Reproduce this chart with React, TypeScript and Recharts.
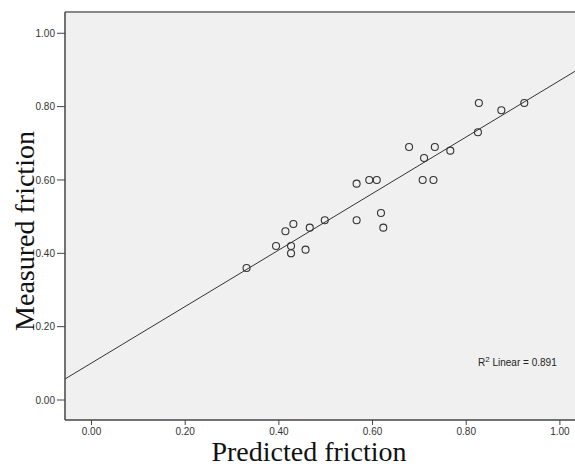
import {
  ScatterChart,
  Scatter,
  XAxis,
  YAxis,
  CartesianGrid,
  ReferenceLine,
  Label,
} from 'recharts';

// Values
const predicted = [
  0.827, 0.875, 0.924, 0.825, 0.678, 0.733, 0.71, 0.766, 0.566, 0.593, 0.609, 0.707, 0.73,
  0.566, 0.618, 0.623, 0.498, 0.466, 0.431, 0.414, 0.331, 0.394, 0.426, 0.426, 0.457,
];
const measured = [
  0.81, 0.79, 0.81, 0.73, 0.69, 0.69, 0.66, 0.68, 0.59, 0.6, 0.6, 0.6, 0.6,
  0.49, 0.51, 0.47, 0.49, 0.47, 0.48, 0.46, 0.36, 0.42, 0.42, 0.4, 0.41,
];
const xTicks = [0, 0.2, 0.4, 0.6, 0.8, 1.0];
const yTicks = [0, 0.2, 0.4, 0.6, 0.8, 1.0];
const rSquared = '0.891';

const X_DOMAIN: [number, number] = [-0.0566, 1.06];
const Y_DOMAIN: [number, number] = [-0.0545, 1.058];

const data = predicted.map((x, i) => ({ x, y: measured[i] }));

// Least squares fit line
const fit = (() => {
  const n = data.length;
  const mx = data.reduce((a, d) => a + d.x, 0) / n;
  const my = data.reduce((a, d) => a + d.y, 0) / n;
  let sxy = 0;
  let sxx = 0;
  data.forEach((d) => {
    sxy += (d.x - mx) * (d.y - my);
    sxx += (d.x - mx) * (d.x - mx);
  });
  const slope = sxy / sxx;
  return { slope, intercept: my - slope * mx };
})();

const tickStyle = { fontFamily: 'Liberation Sans, Arial, sans-serif', fontSize: 10, fill: '#333' };
const titleFont = 'Liberation Serif, Times New Roman, serif';

const OpenCircle = (props: { cx?: number; cy?: number }) => (
  <circle cx={props.cx} cy={props.cy} r={3.5} fill="none" stroke="#333" strokeWidth={1.1} />
);

export default function App() {
  return (
    <div
      style={{
        position: 'absolute',
        left: 0,
        top: 0,
        width: 575,
        height: 468,
        overflow: 'hidden',
        background: '#fff',
      }}
    >
      <ScatterChart width={588} height={468} margin={{ top: 12, right: 0, bottom: 0, left: 0 }}>
        <CartesianGrid fill="#f0f0f0" horizontal={false} vertical={false} />
        <XAxis
          type="number"
          dataKey="x"
          domain={X_DOMAIN}
          ticks={xTicks}
          allowDataOverflow
          tickFormatter={(v: number) => v.toFixed(2)}
          height={48}
          tickSize={5}
          tickMargin={3}
          tick={tickStyle}
          axisLine={{ stroke: '#444', strokeWidth: 1.5 }}
          tickLine={{ stroke: '#444' }}
        >
          <Label
            content={({ viewBox }: any) => (
              <text
                x={viewBox.x + viewBox.width / 2 - 17.5}
                y={viewBox.y + 41}
                textAnchor="middle"
                fontFamily={titleFont}
                fontSize={28}
                fill="#111"
              >
                Predicted friction
              </text>
            )}
          />
        </XAxis>
        <YAxis
          type="number"
          dataKey="y"
          domain={Y_DOMAIN}
          ticks={yTicks}
          allowDataOverflow
          tickFormatter={(v: number) => v.toFixed(2)}
          width={65}
          tickSize={8}
          tickMargin={2}
          tick={tickStyle}
          axisLine={{ stroke: '#444', strokeWidth: 1.5 }}
          tickLine={{ stroke: '#444' }}
        >
          <Label
            content={({ viewBox }: any) => {
              const cx = 34;
              const cy = viewBox.y + 219;
              return (
                <text
                  x={cx}
                  y={cy}
                  transform={`rotate(-90 ${cx} ${cy})`}
                  textAnchor="middle"
                  fontFamily={titleFont}
                  fontSize={28}
                  fill="#111"
                >
                  Measured friction
                </text>
              );
            }}
          />
        </YAxis>
        <ReferenceLine y={Y_DOMAIN[1]} stroke="#888" strokeWidth={2} />
        <ReferenceLine
          ifOverflow="hidden"
          stroke="#333"
          strokeWidth={1}
          segment={[
            { x: X_DOMAIN[0], y: fit.intercept + fit.slope * X_DOMAIN[0] },
            { x: X_DOMAIN[1], y: fit.intercept + fit.slope * X_DOMAIN[1] },
          ]}
        />
        <Scatter data={data} shape={<OpenCircle />} isAnimationActive={false} />
      </ScatterChart>
      <div
        style={{
          position: 'absolute',
          left: 478,
          top: 355,
          fontFamily: 'Liberation Sans, Arial, sans-serif',
          fontSize: 10,
          color: '#222',
          whiteSpace: 'nowrap',
        }}
      >
        R<sup style={{ fontSize: 8 }}>2</sup> Linear = {rSquared}
      </div>
    </div>
  );
}
